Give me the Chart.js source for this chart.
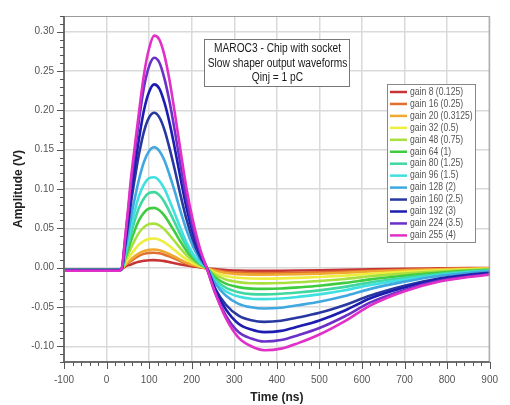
<!DOCTYPE html>
<html>
<head>
    <style>
        body {
            margin: 0;
            background: #fff;
        }

        #wrap {
            width: 510px;
            height: 405px;
        }
    </style>
    <script src="https://cdn.jsdelivr.net/npm/chart.js"></script>
</head>
<body>
    <div id="wrap"><canvas id="waveChart"></canvas></div>

    <script>
        const FONT = "'Liberation Sans', Arial, sans-serif";

        // time axis (ns)
        const times = [-100, 30, 36, 43, 50, 58, 66, 76, 88, 100, 112, 124, 136, 148, 160, 174, 188, 202, 218, 236,
                       255, 280, 310, 340, 370, 410, 450, 500, 560, 620, 700, 780, 850, 900];

        const gainLabels = ['gain 8 (0.125)', 'gain 16 (0.25)', 'gain 20 (0.3125)', 'gain 32 (0.5)', 'gain 48 (0.75)',
                            'gain 64 (1)', 'gain 80 (1.25)', 'gain 96 (1.5)', 'gain 128 (2)', 'gain 160 (2.5)',
                            'gain 192 (3)', 'gain 224 (3.5)', 'gain 255 (4)'];

        const gainColors = ['#c83434', '#e07030', '#f0a830', '#eeee40', '#a8e040', '#40cc40', '#40d8a0',
                            '#40e0e0', '#40a8e0', '#2838a0', '#1c1cb0', '#6a30c8', '#e030c8'];

        // amplitudes (V), one value per time point
        const gain8 = [-0.003, -0.003, -0.002, 0.001, 0.003, 0.004, 0.006, 0.0075, 0.0087, 0.0094, 0.0095, 0.0091, 0.0083, 0.007, 0.0057, 0.0041, 0.0027, 0.0015, 0.0006, -0.001,
                       -0.0018, -0.003, -0.0037, -0.004, -0.004, -0.0039, -0.0037, -0.0034, -0.0029, -0.0022, -0.0015, -0.001, -0.0006, -0.0004];
        const gain16 = [-0.003, -0.003, -0.002, 0.0027, 0.0055, 0.0087, 0.0118, 0.015, 0.0175, 0.0188, 0.019, 0.0182, 0.0165, 0.0141, 0.0114, 0.0082, 0.0053, 0.003, 0.0012, -0.001,
                        -0.0032, -0.0053, -0.0064, -0.0069, -0.007, -0.0069, -0.0065, -0.006, -0.005, -0.0039, -0.0027, -0.0017, -0.0011, -0.0007];
        const gain20 = [-0.003, -0.003, -0.002, 0.0032, 0.0067, 0.0106, 0.0143, 0.0182, 0.0212, 0.0228, 0.023, 0.0221, 0.02, 0.017, 0.0138, 0.0099, 0.0064, 0.0037, 0.0015, -0.001,
                        -0.004, -0.0068, -0.0083, -0.0089, -0.009, -0.0088, -0.0084, -0.0077, -0.0065, -0.005, -0.0034, -0.0022, -0.0014, -0.0009];
        const gain32 = [-0.003, -0.003, -0.002, 0.0052, 0.0107, 0.017, 0.0229, 0.0292, 0.034, 0.0366, 0.037, 0.0355, 0.0322, 0.0274, 0.0222, 0.0159, 0.0104, 0.0059, 0.0024, -0.001,
                        -0.0063, -0.0105, -0.0129, -0.0139, -0.014, -0.0137, -0.013, -0.0119, -0.0101, -0.0077, -0.0053, -0.0034, -0.0021, -0.0014];
        const gain48 = [-0.003, -0.003, -0.002, 0.0078, 0.0162, 0.0258, 0.0347, 0.0442, 0.0515, 0.0554, 0.056, 0.0538, 0.0487, 0.0414, 0.0336, 0.0241, 0.0157, 0.009, 0.0036, -0.001,
                        -0.009, -0.015, -0.0184, -0.0198, -0.02, -0.0196, -0.0186, -0.017, -0.0144, -0.011, -0.0076, -0.0048, -0.003, -0.002];
        const gain64 = [-0.003, -0.003, -0.002, 0.0106, 0.022, 0.035, 0.0471, 0.06, 0.0699, 0.0752, 0.076, 0.073, 0.0661, 0.0562, 0.0456, 0.0327, 0.0213, 0.0122, 0.0049, -0.001,
                        -0.0122, -0.0203, -0.0248, -0.0267, -0.027, -0.0265, -0.0251, -0.023, -0.0194, -0.0149, -0.0103, -0.0065, -0.0041, -0.0027];
        const gain80 = [-0.003, -0.003, -0.002, 0.0134, 0.0278, 0.0442, 0.0595, 0.0758, 0.0883, 0.095, 0.096, 0.0922, 0.0835, 0.071, 0.0576, 0.0413, 0.0269, 0.0154, 0.0062, -0.001,
                        -0.0153, -0.0255, -0.0313, -0.0337, -0.034, -0.0333, -0.0316, -0.0289, -0.0245, -0.0187, -0.0129, -0.0082, -0.0051, -0.0034];
        const gain96 = [-0.003, -0.003, -0.002, 0.0161, 0.0334, 0.0529, 0.0713, 0.0909, 0.1058, 0.1139, 0.115, 0.1104, 0.1001, 0.0851, 0.069, 0.0495, 0.0322, 0.0184, 0.0075, -0.001,
                        -0.018, -0.03, -0.0368, -0.0396, -0.04, -0.0392, -0.0372, -0.034, -0.0288, -0.022, -0.0152, -0.0096, -0.006, -0.004];
        const gain128 = [-0.003, -0.003, -0.001, 0.0199, 0.0409, 0.0658, 0.0872, 0.1117, 0.1346, 0.1484, 0.153, 0.1484, 0.1362, 0.1178, 0.0972, 0.0711, 0.0474, 0.0283, 0.0119, -0.001,
                         -0.0198, -0.0354, -0.046, -0.0504, -0.052, -0.051, -0.0478, -0.0435, -0.0362, -0.027, -0.0178, -0.0106, -0.0068, -0.0048];
        const gain160 = [-0.003, -0.003, -0.001, 0.0256, 0.0526, 0.0847, 0.1123, 0.1438, 0.1734, 0.1911, 0.197, 0.1911, 0.1753, 0.1517, 0.1251, 0.0916, 0.0611, 0.0364, 0.0154, -0.001,
                         -0.0262, -0.0469, -0.0611, -0.0669, -0.069, -0.0676, -0.0635, -0.0575, -0.0475, -0.0355, -0.0232, -0.0138, -0.009, -0.0064];
        const gain192 = [-0.003, -0.003, -0.001, 0.0291, 0.0594, 0.0955, 0.127, 0.1631, 0.2004, 0.2237, 0.233, 0.2276, 0.2097, 0.1841, 0.1526, 0.113, 0.0757, 0.0459, 0.0198, -0.001,
                         -0.0279, -0.0529, -0.0713, -0.0787, -0.082, -0.0804, -0.075, -0.0672, -0.0545, -0.039, -0.0252, -0.0148, -0.0098, -0.0074];
        const gain224 = [-0.004, -0.004, -0.001, 0.0334, 0.0681, 0.1095, 0.1455, 0.1869, 0.2296, 0.2563, 0.267, 0.2609, 0.2403, 0.2109, 0.1749, 0.1295, 0.0868, 0.0526, 0.0227, -0.001,
                         -0.032, -0.0606, -0.0818, -0.0902, -0.094, -0.0921, -0.086, -0.0768, -0.0618, -0.0442, -0.0283, -0.0167, -0.0113, -0.0085];
        const gain255 = [-0.004, -0.004, 0.0, 0.035, 0.072, 0.117, 0.153, 0.197, 0.246, 0.279, 0.295, 0.29, 0.27, 0.238, 0.198, 0.148, 0.1, 0.062, 0.027, -0.002,
                         -0.032, -0.064, -0.089, -0.1, -0.105, -0.103, -0.096, -0.085, -0.068, -0.048, -0.03, -0.018, -0.012, -0.009];

        const seriesValues = [gain8, gain16, gain20, gain32, gain48, gain64, gain80, gain96, gain128, gain160, gain192, gain224, gain255];

        const xTicksMajor = [-100, 0, 100, 200, 300, 400, 500, 600, 700, 800, 900];
        const yTicksMajor = [-0.10, -0.05, 0.00, 0.05, 0.10, 0.15, 0.20, 0.25, 0.30];

        const datasets = seriesValues.map((vals, i) => ({
            label: gainLabels[i],
            data: vals.map((v, k) => ({ x: times[k], y: v })),
            borderColor: gainColors[i],
            backgroundColor: gainColors[i],
            borderWidth: 2.6,
            pointRadius: 0,
            cubicInterpolationMode: 'monotone',
            order: seriesValues.length - i
        }));

        // condensed text, the original uses a narrow face
        function narrowText(ctx, text, x, y, squeeze) {
            ctx.save();
            ctx.translate(x, y);
            ctx.scale(squeeze, 1);
            ctx.fillText(text, 0, 0);
            ctx.restore();
        }

        // frame, minor/major tick marks, text box and legend drawn on top
        const decorPlugin = {
            id: 'decor',
            afterDraw(chart) {
                const ctx = chart.ctx;
                const a = chart.chartArea;
                const xs = chart.scales.x, ys = chart.scales.y;
                ctx.save();

                // frame
                ctx.strokeStyle = '#9a9a9a';
                ctx.lineWidth = 1;
                ctx.strokeRect(a.left, a.top + 0.5, a.right - a.left - 0.5, a.bottom - a.top);
                ctx.strokeStyle = '#6e6e6e';
                ctx.lineWidth = 2;
                ctx.beginPath();
                ctx.moveTo(a.left, a.top);
                ctx.lineTo(a.left, a.bottom);
                ctx.lineTo(a.right, a.bottom);
                ctx.stroke();

                // ticks
                ctx.lineWidth = 1;
                ctx.strokeStyle = '#555';
                for (let v = -100; v <= 900; v += 20) {
                    const px = Math.round(xs.getPixelForValue(v)) + 0.5;
                    const len = v % 100 === 0 ? 7 : 4;
                    ctx.beginPath();
                    ctx.moveTo(px, a.bottom);
                    ctx.lineTo(px, a.bottom + len);
                    ctx.stroke();
                }
                for (let k = -12; k <= 32; k++) {
                    const py = Math.round(ys.getPixelForValue(k / 100)) + 0.5;
                    const len = k % 5 === 0 ? 7 : 4;
                    ctx.beginPath();
                    ctx.moveTo(a.left, py);
                    ctx.lineTo(a.left - len, py);
                    ctx.stroke();
                }

                // text box
                const bx = 204, by = 39, bw = 145, bh = 47;
                ctx.fillStyle = '#fff';
                ctx.fillRect(bx, by, bw, bh);
                ctx.strokeStyle = '#777';
                ctx.strokeRect(bx + 0.5, by + 0.5, bw, bh);
                ctx.fillStyle = '#1a1a1a';
                ctx.font = '12px ' + FONT;
                ctx.textAlign = 'center';
                ctx.textBaseline = 'middle';
                ['MAROC3 - Chip with socket', 'Slow shaper output waveforms', 'Qinj = 1 pC'].forEach((t, i) => {
                    narrowText(ctx, t, bx + bw / 2 + 1, by + 10 + i * 14.5, 0.85);
                });

                // legend
                const lx = 387, ly = 84, lw = 88, lh = 158;
                ctx.fillStyle = '#fff';
                ctx.fillRect(lx, ly, lw, lh);
                ctx.strokeStyle = '#888';
                ctx.strokeRect(lx + 0.5, ly + 0.5, lw, lh);
                ctx.font = '10px ' + FONT;
                ctx.textAlign = 'left';
                chart.data.datasets.forEach((ds, i) => {
                    const yy = ly + 8 + i * 11.95;
                    ctx.strokeStyle = ds.borderColor;
                    ctx.lineWidth = 2.5;
                    ctx.beginPath();
                    ctx.moveTo(lx + 3, yy);
                    ctx.lineTo(lx + 20, yy);
                    ctx.stroke();
                    ctx.fillStyle = '#555';
                    narrowText(ctx, ds.label, lx + 23, yy, 0.86);
                });

                ctx.restore();
            }
        };

        new Chart(document.getElementById('waveChart'), {
            type: 'line',
            data: { datasets },
            plugins: [decorPlugin],
            options: {
                responsive: true,
                maintainAspectRatio: false,
                animation: false,
                layout: { padding: { top: 6, right: 16, left: 0, bottom: 0 } },
                plugins: {
                    legend: { display: false },
                    tooltip: { enabled: false }
                },
                scales: {
                    x: {
                        type: 'linear',
                        min: -100,
                        max: 900,
                        afterFit: s => { s.height = 43; },
                        afterBuildTicks: s => { s.ticks = xTicksMajor.map(v => ({ value: v })); },
                        ticks: {
                            padding: 12,
                            color: '#555',
                            font: { family: FONT, size: 10 },
                            maxRotation: 0,
                            callback: v => String(v)
                        },
                        grid: { color: '#dadada', lineWidth: 1.5, drawTicks: false },
                        border: { display: false },
                        title: {
                            display: true,
                            text: 'Time (ns)',
                            color: '#222',
                            font: { family: FONT, size: 12, weight: 'bold' },
                            padding: { top: 2, bottom: 0 }
                        }
                    },
                    y: {
                        min: -0.12,
                        max: 0.32,
                        afterFit: s => { s.width = 64; },
                        afterBuildTicks: s => { s.ticks = yTicksMajor.map(v => ({ value: v })); },
                        ticks: {
                            padding: 10,
                            color: '#555',
                            font: { family: FONT, size: 10 },
                            callback: v => v.toFixed(2)
                        },
                        grid: { color: '#dadada', lineWidth: 1.5, drawTicks: false },
                        border: { display: false },
                        title: {
                            display: true,
                            text: 'Amplitude (V)',
                            color: '#222',
                            font: { family: FONT, size: 12, weight: 'bold' },
                            padding: { top: 11, bottom: 0 }
                        }
                    }
                }
            }
        });
    </script>
</body>
</html>
